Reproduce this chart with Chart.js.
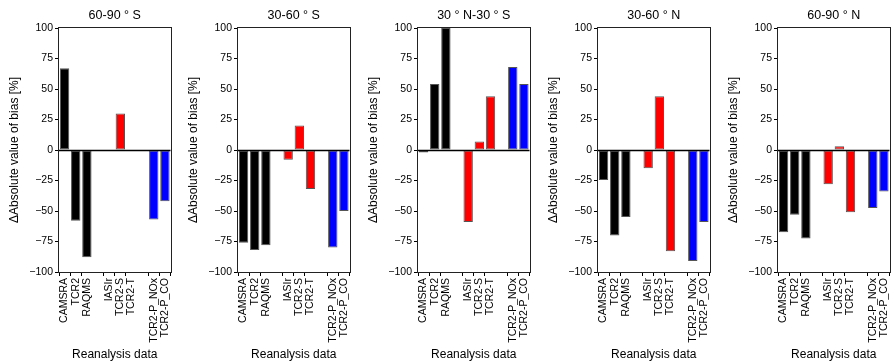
<!DOCTYPE html>
<html>
<head>
<meta charset="utf-8">
<script src="https://cdn.jsdelivr.net/npm/chart.js@4/dist/chart.umd.min.js"></script>
<style>
  html, body { margin: 0; padding: 0; background: #fff; }
  body { width: 893px; height: 364px; overflow: hidden; position: relative; }
  .panel { position: absolute; top: 0; width: 180px; height: 364px; }
</style>
</head>
<body>
<div class="panel" style="left:0px"><canvas id="c0" width="180" height="364"></canvas></div>
<div class="panel" style="left:179px"><canvas id="c1" width="180" height="364"></canvas></div>
<div class="panel" style="left:359px"><canvas id="c2" width="180" height="364"></canvas></div>
<div class="panel" style="left:539px"><canvas id="c3" width="180" height="364"></canvas></div>
<div class="panel" style="left:719px"><canvas id="c4" width="180" height="364"></canvas></div>
<script>
// ---- data ----
const modelGroup = ['CAMSRA', 'TCR2', 'RAQMS'];
const singleGroup = ['IASIr', 'TCR2-S', 'TCR2-T'];
const precursorGroup = ['TCR2-P_NOx', 'TCR2-P_CO'];
const groupColors = ['#000000', '#ff0000', '#0000ff'];

const regionTitles = ['60-90 ° S', '30-60 ° S', '30 ° N-30 ° S', '30-60 ° N', '60-90 ° N'];

// values in order: CAMSRA, TCR2, RAQMS, IASIr, TCR2-S, TCR2-T, TCR2-P_NOx, TCR2-P_CO
const south6090 = [67, -58, -88, -0.5, 30, 0.5, -57, -42];
const south3060 = [-76, -82, -78, -8, 20, -32, -80, -50];
const tropics = [-2, 54, 100, -59, 7, 44, 68, 54];
const north3060 = [-24.5, -70, -55, -15, 44, -83, -91, -59];
const north6090 = [-67.5, -53, -72.5, -28, 3, -51, -47.5, -34];

const yTicks = [-100, -75, -50, -25, 0, 25, 50, 75, 100];
const yAxisTitle = 'ΔAbsolute value of bias [%]';
const xAxisTitle = 'Reanalysis data';

// ---- build slots with gaps between groups ----
const groups = [modelGroup, singleGroup, precursorGroup];
const labels = [];
const slotColors = [];
const slotIndex = []; // value index for each slot (-1 = gap)
let vi = 0;
groups.forEach((g, gi) => {
  if (gi > 0) { labels.push(''); slotColors.push('rgba(0,0,0,0)'); slotIndex.push(-1); }
  g.forEach(name => { labels.push(name); slotColors.push(groupColors[gi]); slotIndex.push(vi++); });
});
function toSlots(vals) { return slotIndex.map(i => i < 0 ? null : vals[i]); }

const FONT = "'Liberation Sans', Arial, Helvetica, sans-serif";
const fmt = v => (v < 0 ? '\u2212' + Math.abs(v) : String(v));

const framePlugin = {
  id: 'frame',
  afterDatasetsDraw(chart) {
    const { ctx, chartArea: a, scales: { y } } = chart;
    ctx.save();
    const y0 = Math.round(y.getPixelForValue(0)) + 0.5;
    ctx.strokeStyle = '#000';
    ctx.lineWidth = 1.6;
    ctx.beginPath(); ctx.moveTo(a.left, y0); ctx.lineTo(a.right, y0); ctx.stroke();
    ctx.strokeStyle = '#222';
    ctx.lineWidth = 1;
    ctx.strokeRect(Math.round(a.left) - 0.5, Math.round(a.top) - 0.5,
                   Math.round(a.right - a.left) + 1, Math.round(a.bottom - a.top) + 1);
    ctx.restore();
  }
};

const allValues = [south6090, south3060, tropics, north3060, north6090];
allValues.forEach((vals, p) => {
  new Chart(document.getElementById('c' + p), {
    type: 'bar',
    data: {
      labels: labels,
      datasets: [{
        data: toSlots(vals),
        backgroundColor: slotColors,
        borderColor: '#555',
        borderWidth: 1,
        borderSkipped: false,
        barPercentage: 0.84,
        categoryPercentage: 1.0
      }]
    },
    options: {
      responsive: false,
      animation: false,
      devicePixelRatio: 1,
      layout: { padding: { left: 0, right: 0, top: 0, bottom: 0 } },
      plugins: {
        legend: { display: false },
        tooltip: { enabled: false },
        title: {
          display: true,
          fullSize: false,
          align: 'center',
          text: regionTitles[p],
          color: '#000',
          font: { family: FONT, size: 12.5, weight: 'normal', lineHeight: 1.2 },
          padding: { top: 8, bottom: 5 }
        }
      },
      scales: {
        x: {
          afterFit(scale) { scale.height = 92; },
          border: { display: false },
          grid: {
            drawOnChartArea: false,
            drawTicks: true,
            tickLength: 4,
            offset: true,
            tickColor: ctx => (slotIndex[ctx.index] < 0 ? 'rgba(0,0,0,0)' : '#000')
          },
          ticks: {
            autoSkip: false,
            maxRotation: 90,
            minRotation: 90,
            padding: 2,
            color: '#000',
            font: { family: FONT, size: 10.5 }
          },
          title: {
            display: true,
            text: xAxisTitle,
            color: '#000',
            font: { family: FONT, size: 12 },
            padding: { top: 0, bottom: 2 }
          }
        },
        y: {
          min: -100,
          max: 100,
          afterFit(scale) { scale.width = 59; },
          afterBuildTicks(scale) { scale.ticks = yTicks.map(v => ({ value: v })); },
          border: { display: false },
          grid: {
            drawOnChartArea: false,
            drawTicks: true,
            tickLength: 4,
            tickColor: '#000'
          },
          ticks: {
            padding: 2,
            color: '#000',
            font: { family: FONT, size: 10.5 },
            callback: v => fmt(v)
          },
          title: {
            display: true,
            text: yAxisTitle,
            color: '#000',
            font: { family: FONT, size: 12 },
            padding: { top: 7, bottom: 0 }
          }
        }
      }
    },
    plugins: [framePlugin]
  });
});
</script>
</body>
</html>
